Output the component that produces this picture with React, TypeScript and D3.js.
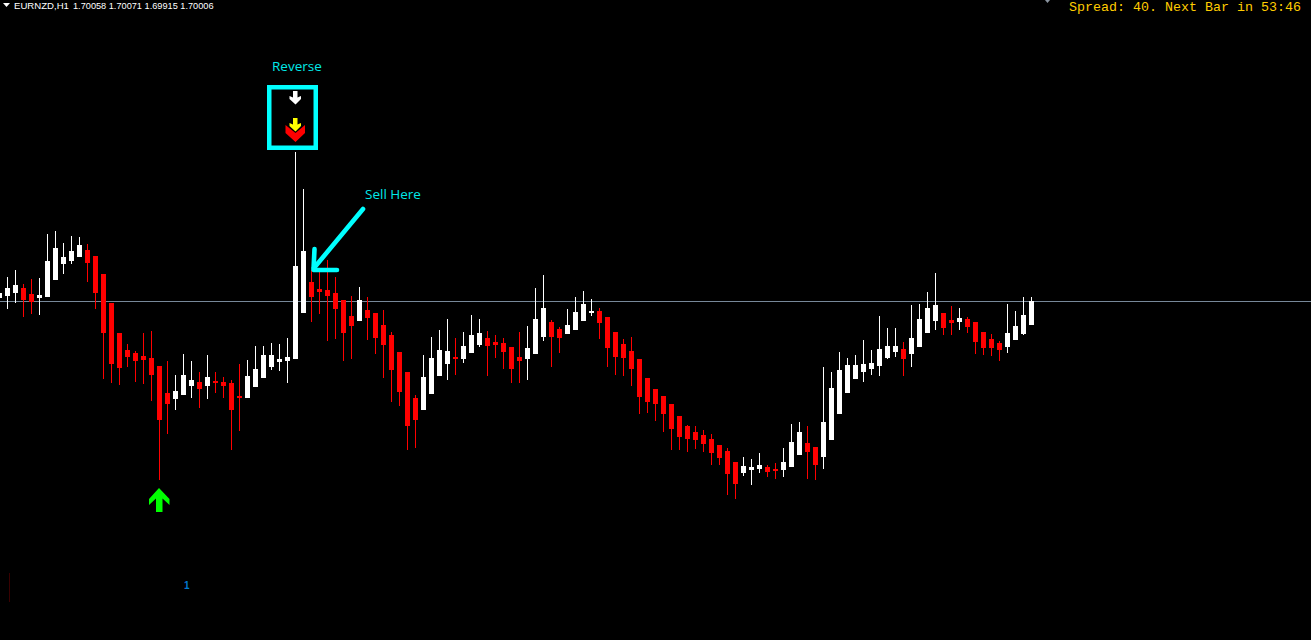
import React from "react";
import * as d3 from "d3";

// Levels are pips above 1.6300; the bid 1.70006 sits at about 700.
const opens = [703,705,708,713,707,703,704,721,737,740,744,751,745,727,698,668,651,648,645,643,635,608,602,606,615,619,615,620,619,618,605,603,614,623,634,639,640,642,688,719,712,711,708,701,685,680,691,688,676,666,649,629,603,591,607,625,637,644,642,648,656,663,659,658,654,644,642,647,664,679,672,667,671,680,688,690,684,669,657,650,642,623,612,605,597,585,575,569,566,562,556,550,539,528,531,532,534,532,531,534,546,558,554,544,561,587,608,622,629,632,635,643,649,652,647,654,668,680,688,681,679,682,679,669,662,658,654,661,667,676];
const highs = [716,724,731,717,722,723,767,770,758,765,764,757,745,727,698,668,657,650,668,670,635,640,626,647,640,629,646,629,624,621,637,641,655,655,658,657,663,849,812,731,731,741,724,701,705,714,704,688,691,669,649,629,606,646,664,671,682,663,669,686,682,670,666,663,654,669,675,713,726,681,674,692,704,710,702,693,684,669,662,664,642,623,612,605,597,585,576,575,571,567,556,553,539,544,542,548,536,538,553,577,579,575,554,634,629,649,643,646,661,651,685,673,673,659,696,697,709,728,688,695,693,684,679,669,667,660,697,690,704,704];
const lows = [696,692,698,684,687,686,704,721,727,737,744,719,692,622,618,616,634,619,617,600,521,567,591,606,603,593,602,608,603,551,570,603,614,623,631,630,618,642,688,679,687,660,662,640,642,680,661,647,623,599,595,551,553,591,607,625,621,626,638,648,654,625,643,632,618,618,621,647,660,634,648,667,671,680,685,662,634,626,625,615,587,588,580,569,551,551,549,552,549,536,536,506,502,525,516,528,524,522,524,534,546,522,521,532,561,587,608,622,619,626,625,642,644,625,634,654,668,671,666,666,671,668,647,646,645,640,648,661,666,676];
const closes = [708,713,716,701,699,706,740,753,744,750,756,738,708,668,637,633,644,640,641,626,581,597,610,626,621,612,624,618,615,591,603,625,632,646,646,642,644,735,750,704,709,705,692,668,675,701,683,663,656,631,609,575,581,624,643,651,650,642,655,666,668,655,656,649,632,640,653,682,693,664,663,676,689,697,690,678,653,644,643,632,604,599,597,587,572,564,562,561,557,548,543,527,517,535,534,536,529,530,539,559,569,549,536,579,613,631,636,636,637,638,652,655,655,642,663,682,693,696,673,678,683,674,659,653,653,651,668,675,686,700];

const bidLevel = 700;
const buySignalBars = [20];
const buySignalLevels = [513];
const sellSignalBars = [37];
const sellSignalLevels = [851];

const headerSymbol = "EURNZD,H1";
const headerPrices = "1.70058 1.70071 1.69915 1.70006";
const statusText = "Spread: 40. Next Bar in 53:46";
const reverseLabel = "Reverse";
const sellLabel = "Sell Here";

const CYAN = "#00ffff";
const UP = "#ffffff";
const DOWN = "#ff0000";

const x = d3.scaleLinear().domain([0, 129]).range([-1, 1031]);
const y = d3.scaleLinear().domain([1001, 361]).range([0, 640]);

const poly = (pts: number[][]) => (d3.line()(pts as [number, number][]) || "") + "Z";

const UP_ARROW = poly([[0, 0], [10.5, 11], [10.5, 17], [3.5, 10.5], [3.5, 24], [-3, 24], [-3, 10.5], [-10, 17], [-10, 11]]);
const SMALL_DOWN = poly([[-2, 0], [2.5, 0], [2.5, 6.5], [6, 5], [6, 8], [0.5, 13.5], [-5.5, 8], [-5.5, 5], [-2, 6.5]]);
const RED_CHEVRON = poly([[-9.5, 0], [0.5, 8], [10, 0], [10, 8], [0.5, 17], [-9.5, 8]]);

function Candles() {
  return (
    <g shapeRendering="crispEdges">
      {opens.map((o, i) => {
        const c = closes[i];
        const col = c >= o ? UP : DOWN;
        const cx = Math.round(x(i));
        const top = y(Math.max(o, c));
        const bot = y(Math.min(o, c));
        return (
          <g key={i} fill={col}>
            <rect x={cx} y={y(highs[i])} width={1} height={y(lows[i]) - y(highs[i])} />
            <rect x={cx - 2} y={top} width={5} height={bot - top} />
          </g>
        );
      })}
    </g>
  );
}

export default function App() {
  const sx = x(sellSignalBars[0]);
  const sy = y(sellSignalLevels[0]);
  return (
    <svg
      width={1311}
      height={640}
      viewBox="0 0 1311 640"
      style={{ position: "fixed", left: 0, top: 0, display: "block", background: "#000" }}
    >
      <rect width={1311} height={640} fill="#000" />
      <rect x={0} y={y(bidLevel)} width={1311} height={1} fill="#778899" shapeRendering="crispEdges" />
      <Candles />

      {/* signal arrows */}
      {buySignalBars.map((b, i) => (
        <path key={b} d={UP_ARROW} fill="#00ff00" transform={`translate(${x(b)},${y(buySignalLevels[i])})`} />
      ))}
      <path d={SMALL_DOWN} fill="#ffffff" transform={`translate(${sx},${sy - 59})`} />
      <path d={RED_CHEVRON} fill="#ff0000" transform={`translate(${sx},${sy - 25})`} />
      <path d={SMALL_DOWN} fill="#ffff00" transform={`translate(${sx},${sy - 32})`} />

      {/* annotations */}
      <rect x={269.25} y={87.25} width={46.5} height={60.5} fill="none" stroke={CYAN} strokeWidth={4.5} />
      <text x={272} y={71} fontFamily="'Open Sans'" fontSize={13.5} fill="#00e8e8">{reverseLabel}</text>
      <text x={365} y={199} fontFamily="'Open Sans'" fontSize={13.5} fill="#00e8e8">{sellLabel}</text>
      <g fill="none" stroke={CYAN} strokeWidth={4.6} strokeLinecap="round" strokeLinejoin="round">
        <path d="M363,209L314,268" />
        <path d="M314.5,249L313.5,270L337,270" />
      </g>

      {/* header */}
      <path d="M3,3L10,3L6.5,7Z" fill="#ffffff" />
      <text x={14} y={8.5} fontFamily="'Liberation Sans'" fontSize={9.6} fill="#ffffff">{headerSymbol}</text>
      <text x={73} y={8.5} fontFamily="'Liberation Sans'" fontSize={9.2} fill="#ffffff">{headerPrices}</text>
      <path d="M1045,0L1050,0L1047.5,3Z" fill="#8a94a0" />
      <text x={1069} y={11} fontFamily="'Liberation Mono'" fontSize={13.33} fill="#ffcc00">{statusText}</text>

      {/* bottom indicator marks */}
      <rect x={9} y={573} width={1} height={29} fill="#3a0000" shapeRendering="crispEdges" />
      <text x={184} y={589} fontFamily="'Liberation Sans'" fontSize={10} fontWeight="bold" fill="#0078d0">1</text>
    </svg>
  );
}
